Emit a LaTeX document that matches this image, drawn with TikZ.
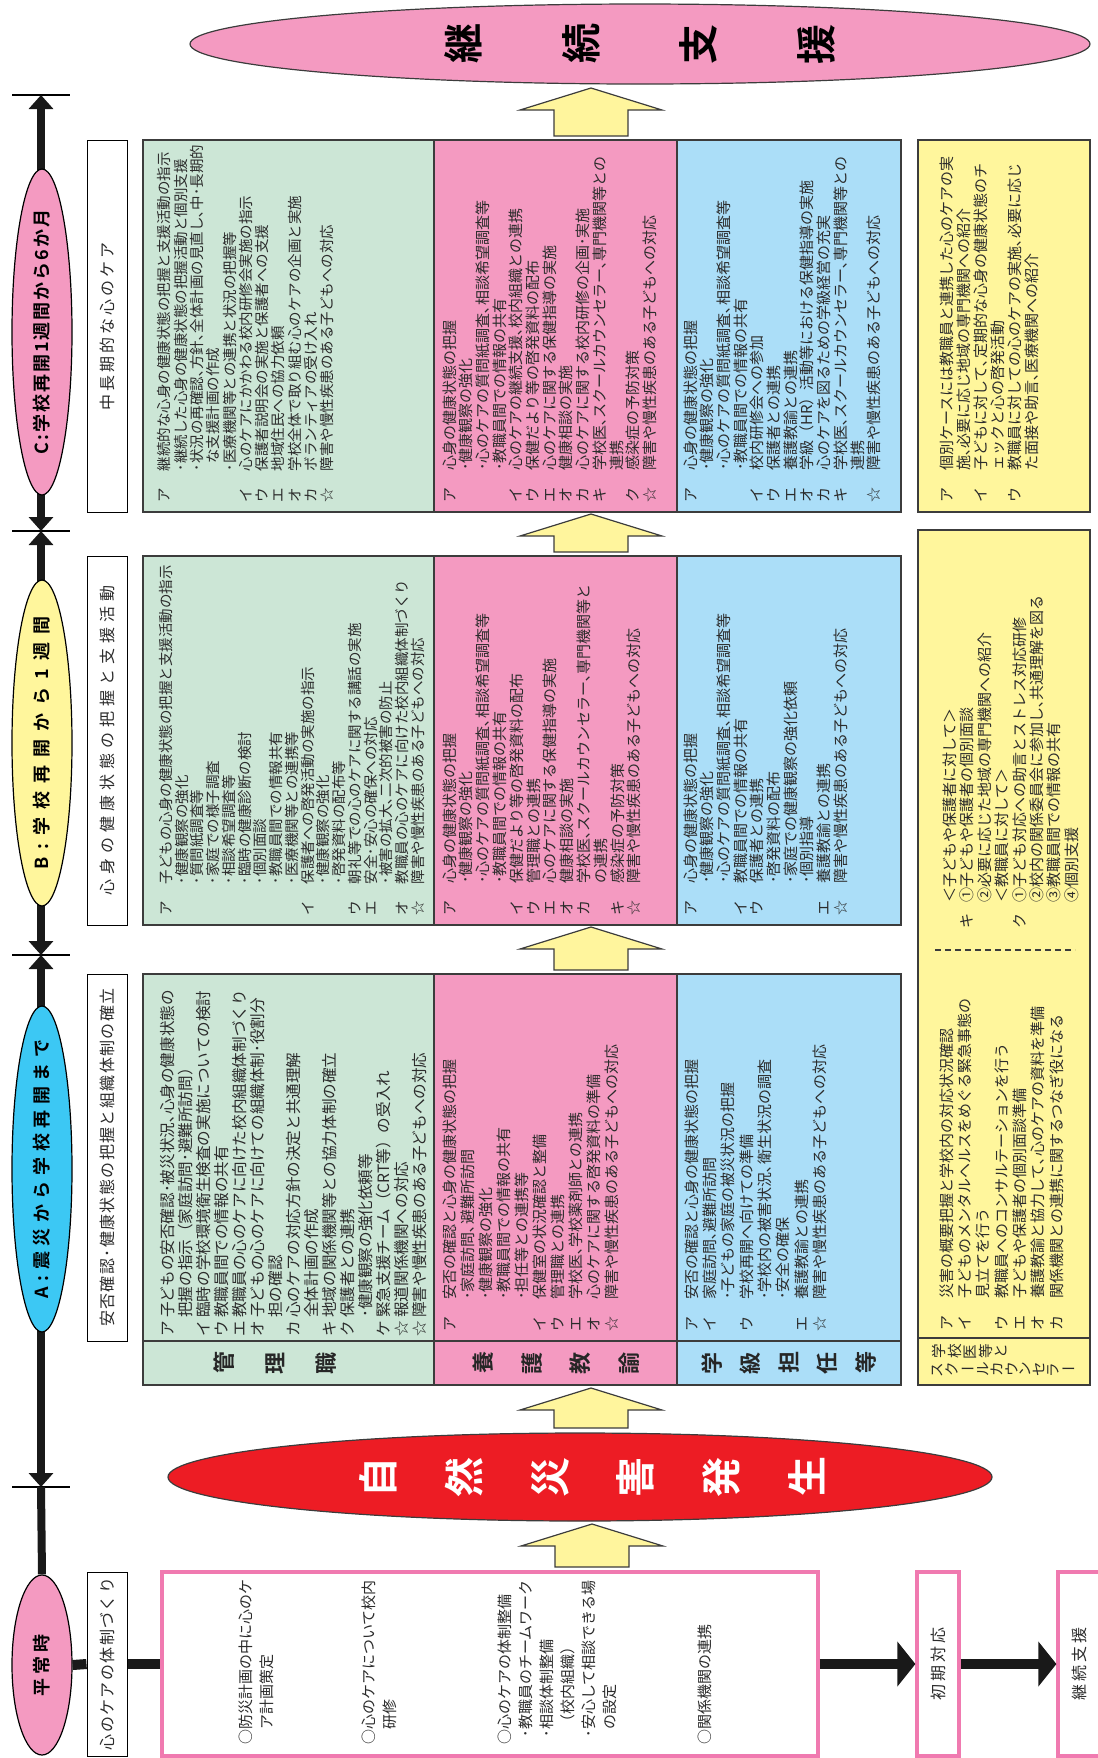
\documentclass[tikz,border=0pt]{standalone}
\usepackage{fontspec}
\setmainfont{Noto Sans CJK JP}[BoldFont={Noto Sans CJK JP Bold}]
\usepackage{graphicx}
\usepackage{array}
\usetikzlibrary{positioning,arrows.meta,shapes.geometric}
\definecolor{kgreen}{HTML}{CCE6D6}
\definecolor{kpink}{HTML}{F49AC1}
\definecolor{kblue}{HTML}{ABDEF8}
\definecolor{kyellow}{HTML}{FFF69C}
\definecolor{kred}{HTML}{ED1C24}
\definecolor{kcyan}{HTML}{3CC8F4}
\definecolor{arrowyel}{HTML}{FFF59D}
\definecolor{boxpink}{HTML}{F07AB0}
\definecolor{linegrey}{HTML}{3C3C3C}
\definecolor{txtgrey}{HTML}{2B2B2B}
% one rotated character per glyph, spread by #1
\makeatletter
\newcommand\rotline[2]{\def\rl@sep{}\@tfor\rl@c:=#2\do{\rl@sep\rotatebox[origin=c]{90}{\rl@c}\def\rl@sep{\hspace{#1}}}}
\newcommand\sprd[2]{\def\sp@sep{}\@tfor\sp@c:=#2\do{\sp@sep\sp@c\def\sp@sep{\hspace{#1}}}}
\makeatother
\newcommand\rotch[1]{\rotatebox[origin=c]{90}{#1}}
% smashed cells so that the line pitch is exact
\newsavebox\kbox
\newcolumntype{K}{>{\begin{lrbox}{\kbox}}l<{\end{lrbox}\smash{\usebox{\kbox}}}}
% list of items: font size, line pitch, label gap, rows
\newcommand\kcell[4]{{\fontsize{#1}{#2}\selectfont\renewcommand\arraystretch{1}%
  \begin{tabular}{@{}K@{\hspace{#3}}K@{}}#4\end{tabular}}}
\newcommand\blockup[3]{\draw[uparr] (#1-37,#3) -- (#1-37,#2+22) -- (#1-71,#2+22)
  -- (#1,#2) -- (#1+71,#2+22) -- (#1+37,#2+22) -- (#1+37,#3) -- cycle;}
\tikzset{
  cellline/.style={draw=linegrey, line width=0.7pt},
  celltext/.style={rotate=90, inner sep=0pt, text=txtgrey, anchor=north west},
  hdrbox/.style={draw=black, line width=0.5pt, fill=white, rotate=90,
                 minimum height=20pt, inner sep=0pt, font=\fontsize{8}{9}\selectfont, text=txtgrey},
  phase/.style={ellipse, draw=black, line width=0.6pt, rotate=90, minimum height=30pt, inner sep=0pt},
  phasetxt/.style={rotate=90, inner sep=0pt, font=\fontsize{9}{10}\selectfont\bfseries, text=black},
  tline/.style={line width=4pt, draw=black!90},
  tickline/.style={line width=0.8pt, draw=black},
  uparr/.style={draw=linegrey, line width=0.6pt, fill=arrowyel, line join=miter},
  fatline/.style={line width=5pt, draw=black!90},
  pinkbox/.style={draw=boxpink, line width=1.6pt, fill=white, inner sep=0pt},
  smallbox/.style={pinkbox, rotate=90, minimum width=92pt, minimum height=21pt,
                   font=\fontsize{8}{9}\selectfont, text=txtgrey},
  lblchar/.style={inner sep=0pt, font=\fontsize{11}{11}\selectfont\bfseries, text=black!85},
  tarr/.tip={Triangle[width=12pt,length=7pt]},
  fattip/.tip={Triangle[width=22pt,length=9pt]}
}
\begin{document}
\begin{tikzpicture}[x=0.5pt, y=-0.5pt]
  \useasboundingbox (0,0) rectangle (1098,1758);
  % table cells
  \foreach \ya/\yb in {140/512,556/925,974/1341,1341/1385}{
    \draw[cellline, fill=kgreen] (143,\ya) rectangle (434,\yb);
    \draw[cellline, fill=kpink] (434,\ya) rectangle (677,\yb);
    \draw[cellline, fill=kblue] (677,\ya) rectangle (901,\yb);
  }
  \draw[cellline, fill=kyellow] (918,140) rectangle (1090,512);
  \draw[cellline, fill=kyellow] (918,530) rectangle (1090,1338);
  \draw[cellline, fill=kyellow] (918,1338) rectangle (1090,1385);
  \draw[linegrey, line width=0.6pt, dash pattern=on 3pt off 2pt] (935,950) -- (1075,950);

  % block arrows
  \blockup{591}{88}{136}
  \blockup{591}{514}{552}
  \blockup{591}{927}{970}
  \blockup{591}{1388}{1428}
  \blockup{592}{1524}{1567}

  % time line
  \coordinate (t0) at (41,95);
  \coordinate (t1) at (41,531);
  \coordinate (t2) at (41,955);
  \coordinate (t3) at (41,1487);
  \foreach \yy in {95,531,955,1487} \draw[tickline] (12,\yy) -- (70,\yy);
  \draw[tline, tarr-tarr] (t0) -- (t1);
  \draw[tline, tarr-tarr] (t1) -- (t2);
  \draw[tline, tarr-tarr] (t2) -- (t3);
  \node[phase, fill=kpink, minimum width=90pt] (heijo) at (42,1665) {};
  \draw[tline] (t3) -- (heijo.east);
  \node[phase, fill=kpink, minimum width=163pt] (phC) at (42,332) {};
  \node[phase, fill=kyellow, minimum width=163pt] (phB) at (42,743) {};
  \node[phase, fill=kcyan, minimum width=163pt] (phA) at (42,1169) {};
  \node[phasetxt] (phCt) at (phC) {\sprd{1pt}{C:学校再開1週間から6か月}};
  \node[phasetxt] (phBt) at (phB) {\sprd{4pt}{B:学校再開から1週間}};
  \node[phasetxt] (phAt) at (phA) {\sprd{2.8pt}{A:震災から学校再開まで}};
  \node[phasetxt] (heijot) at (heijo) {\sprd{2pt}{平常時}};

  % headers
  \node[hdrbox, minimum width=186pt] (hC) at (107,326) {\sprd{1.5pt}{中長期的な心のケア}};
  \node[hdrbox, minimum width=184.5pt] (hB) at (107,740.5) {\sprd{2.5pt}{心身の健康状態の把握と支援活動}};
  \node[hdrbox, minimum width=183.5pt] (hA) at (107,1157.5) {\sprd{0.7pt}{安否確認･健康状態の把握と組織体制の確立}};
  \node[hdrbox, minimum width=92pt] (h0) at (107,1664) {\sprd{0.7pt}{心のケアの体制づくり}};

  % big ellipses
  \node[ellipse, draw=linegrey, line width=0.6pt, fill=kpink, minimum width=450pt,
        minimum height=40pt, inner sep=0pt] (keizoku) at (640,44) {};
  \node[lblchar, font=\fontsize{20}{20}\selectfont\bfseries, text=black] (keizokut) at (keizoku)
        {\rotline{40pt}{継続支援}};
  \node[ellipse, draw=linegrey, line width=0.6pt, fill=kred, minimum width=412pt,
        minimum height=44pt, inner sep=0pt] (quake) at (580,1477) {};
  \node[lblchar, font=\fontsize{20}{20}\selectfont\bfseries, text=white] (quaket) at (592,1477)
        {\rotline{24pt}{自然災害発生}};

  % row labels
  \node[lblchar] (lkan) at (275,1363) {\rotline{15.5pt}{管理職}};
  \node[lblchar] (lyogo) at (556,1363) {\rotline{14pt}{養護教諭}};
  \node[lblchar] (ltan) at (789,1363) {\rotline{9pt}{学級担任等}};
  \node[inner sep=0pt, anchor=west, text=txtgrey, font=\fontsize{7.3}{8.5}\selectfont] (lsc) at (932,1362)
        {\begin{tabular}{@{}l@{}}\rotline{1.2pt}{学校医等と}\\
         \rotch{ス}\hspace{1.2pt}\rotch{ク}\hspace{1.2pt}ー\hspace{1.2pt}\rotch{ル}\hspace{1.2pt}%
         \rotch{カ}\hspace{1.2pt}\rotch{ウ}\hspace{1.2pt}\rotch{ン}\hspace{1.2pt}\rotch{セ}\hspace{1.2pt}%
         \rotch{ラ}\hspace{1.2pt}ー\end{tabular}};

  % A row
  \node[celltext] (gA) at (160,1337) {\kcell{7.8}{9}{1.7pt}{%
    ア & 子どもの安否確認･被災状況､心身の健康状態の\\
       & 把握の指示（家庭訪問･避難所訪問）\\
    イ & 臨時の学校環境衛生検査の実施についての検討\\
    ウ & 教職員間での情報の共有\\
    エ & 教職員の心のケアに向けた校内組織体制づくり\\
    オ & 子どもの心のケアに向けての組織体制･役割分\\
       & 担の確認\\
    カ & 心のケアの対応方針の決定と共通理解\\
       & 全体計画の作成\\
    キ & 地域の関係機関等との協力体制の確立\\
    ク & 保護者との連携\\
       & ･健康観察の強化依頼等\\
    ケ & 緊急支援チーム（CRT等）の受入れ\\
    ☆ & 報道関係機関への対応\\
    ☆ & 障害や慢性疾患のある子どもへの対応}};
  \node[celltext] (pA) at (442,1332) {\kcell{7.5}{9}{8.5pt}{%
    ア & 安否の確認と心身の健康状態の把握\\
       & ･家庭訪問､避難所訪問\\
       & ･健康観察の強化\\
       & ･教職員間での情報の共有\\
       & ･担任等との連携等\\
    イ & 保健室の状況確認と整備\\
    ウ & 管理職との連携\\
    エ & 学校医､学校薬剤師との連携\\
    オ & 心のケアに関する啓発資料の準備\\
    ☆ & 障害や慢性疾患のある子どもへの対応}};
  \node[celltext] (bA) at (684,1332) {\kcell{7.5}{9.15}{8.5pt}{%
    ア & 安否の確認と心身の健康状態の把握\\
    イ & 家庭訪問､避難所訪問\\
       & ･子どもの家庭の被災状況の把握\\
    ウ & 学校再開へ向けての準備\\
       & ･学校内の被害状況､衛生状況の調査\\
       & ･安全の確保\\
    エ & 養護教諭との連携\\
    ☆ & 障害や慢性疾患のある子どもへの対応}};
  \node[celltext] (yA) at (939,1331) {\kcell{7.5}{9.15}{8.5pt}{%
    ア & 災害の概要把握と学校内の対応状況確認\\
    イ & 子どものメンタルヘルスをめぐる緊急事態の\\
       & 見立てを行う\\
    ウ & 教職員へのコンサルテーションを行う\\
    エ & 子どもや保護者の個別面談準備\\
    オ & 養護教諭と協力して､心のケアの資料を準備\\
    カ & 関係機関との連携に関するつなぎ役になる}};

  % B row
  \node[celltext] (gB) at (160,916) {\kcell{7.25}{7.875}{8.5pt}{%
    ア & 子どもの心身の健康状態の把握と支援活動の指示\\
       & ･健康観察の強化\\
       & ･質問紙調査等\\
       & ･家庭での様子調査\\
       & ･相談希望調査等\\
       & ･臨時の健康診断の検討\\
       & ･個別面談\\
       & ･教職員間での情報共有\\
       & ･医療機関等との連携等\\
    イ & 保護者への啓発活動の実施の指示\\
       & ･健康観察の強化\\
       & ･啓発資料の配布等\\
    ウ & 朝礼等での心のケアに関する講話の実施\\
    エ & 安全･安心の確保への対応\\
       & ･被害の拡大､二次的被害の防止\\
    オ & 教職員の心のケアに向けた校内組織体制づくり\\
    ☆ & 障害や慢性疾患のある子どもへの対応}};
  \node[celltext] (pB) at (443,916) {\kcell{7.5}{8.4}{8.5pt}{%
    ア & 心身の健康状態の把握\\
       & ･健康観察の強化\\
       & ･心のケアの質問紙調査､相談希望調査等\\
       & ･教職員間での情報の共有\\
    イ & 保健だより等の啓発資料の配布\\
    ウ & 管理職との連携\\
    エ & 心のケアに関する保健指導の実施\\
    オ & 健康相談の実施\\
    カ & 学校医､スクールカウンセラー､専門機関等と\\
       & の連携\\
    キ & 感染症の予防対策\\
    ☆ & 障害や慢性疾患のある子どもへの対応}};
  \node[celltext] (bB) at (684,916) {\kcell{7.5}{8.35}{8.5pt}{%
    ア & 心身の健康状態の把握\\
       & ･健康観察の強化\\
       & ･心のケアの質問紙調査､相談希望調査等\\
    イ & 教職員間での情報の共有\\
    ウ & 保護者との連携\\
       & ･啓発資料の配布\\
       & ･家庭での健康観察の強化依頼\\
       & ･個別指導\\
    エ & 養護教諭との連携\\
    ☆ & 障害や慢性疾患のある子どもへの対応}};
  \node[celltext] (yB) at (943,929) {\kcell{7.5}{8.7}{5.5pt}{%
       & ＜子どもや保護者に対して＞\\
    キ & ①子どもや保護者の個別面談\\
       & ②必要に応じた地域の専門機関への紹介\\
       & ＜教職員に対して＞\\
    ク & ①子ども対応への助言とストレス対応研修\\
       & ②校内の関係委員会に参加し､共通理解を図る\\
       & ③教職員間での情報の共有\\
       & ④個別支援}};

  % C row
  \node[celltext] (gC) at (158,503) {\kcell{7.25}{8.15}{8.5pt}{%
    ア & 継続的な心身の健康状態の把握と支援活動の指示\\
       & ･継続した心身の健康状態の把握活動と個別支援\\
       & ･状況の再確認､方針､全体計画の見直し､中･長期的\\
       & \hspace{0.5em}な支援計画の作成\\
       & ･医療機関等との連携と状況の把握等\\
    イ & 心のケアにかかわる校内研修会実施の指示\\
    ウ & 保護者説明会の実施と保護者への支援\\
    エ & 地域住民への協力依頼\\
    オ & 学校全体で取り組む心のケアの企画と実施\\
    カ & ボランティアの受け入れ\\
    ☆ & 障害や慢性疾患のある子どもへの対応}};
  \node[celltext] (pC) at (443,503) {\kcell{7.5}{8.35}{8.5pt}{%
    ア & 心身の健康状態の把握\\
       & ･健康観察の強化\\
       & ･心のケアの質問紙調査､相談希望調査等\\
       & ･教職員間での情報の共有\\
    イ & 心のケアの継続支援､校内組織との連携\\
    ウ & 保健だより等の啓発資料の配布\\
    エ & 心のケアに関する保健指導の実施\\
    オ & 健康相談の実施\\
    カ & 心のケアに関する校内研修の企画･実施\\
    キ & 学校医､スクールカウンセラー､専門機関等との\\
       & 連携\\
    ク & 感染症の予防対策\\
    ☆ & 障害や慢性疾患のある子どもへの対応}};
  \node[celltext] (bC) at (684,503) {\kcell{7.5}{8.35}{8.5pt}{%
    ア & 心身の健康状態の把握\\
       & ･健康観察の強化\\
       & ･心のケアの質問紙調査､相談希望調査等\\
       & ･教職員間での情報の共有\\
    イ & 校内研修会への参加\\
    ウ & 保護者との連携\\
    エ & 養護教諭との連携\\
    オ & 学級（HR）活動等における保健指導の実施\\
    カ & 心のケアを図るための学級経営の充実\\
    キ & 学校医､スクールカウンセラー､専門機関等との\\
       & 連携\\
    ☆ & 障害や慢性疾患のある子どもへの対応}};
  \node[celltext] (yC) at (940,503) {\kcell{7.5}{8.5}{8.5pt}{%
    ア & 個別ケースには教職員と連携した心のケアの実\\
       & 施､必要に応じ地域の専門機関への紹介\\
    イ & 子どもに対して､定期的な心身の健康状態のチ\\
       & ェックと心の啓発活動\\
    ウ & 教職員に対しての心のケアの実施､必要に応じ\\
       & た面接や助言､医療機関への紹介}};

  % peacetime preparation and flow
  \node[pinkbox, minimum width=328pt, minimum height=92pt] (prep) at (490,1664) {};
  \node[smallbox] (init) at (938,1664) {\sprd{1.5pt}{初期対応}};
  \node[smallbox] (cont) at (1079,1664) {\sprd{1.5pt}{継続支援}};
  \draw[fatline] (heijo.south) -- (h0.north);
  \draw[fatline] (h0.south) -- (prep.west);
  \draw[fatline, -fattip] (prep.east) -- (init.north);
  \draw[fatline, -fattip] (init.south) -- (cont.north);
  \node[celltext] (pr1) at (236,1745) {\kcell{7.5}{10.5}{0pt}{%
    ○ & 防災計画の中に心のケ\\ & ア計画策定}};
  \node[celltext] (pr2) at (359,1745) {\kcell{7.5}{10.5}{0pt}{%
    ○ & 心のケアについて校内\\ & 研修}};
  \node[celltext] (pr3) at (495,1745) {\kcell{7.5}{10.5}{0pt}{%
    ○ & 心のケアの体制整備\\
      & \llap{･}教職員のチームワーク\\
      & \llap{･}相談体制整備\\
      & （校内組織）\\
      & \llap{･}安心して相談できる場\\
      & の設定}};
  \node[celltext] (pr4) at (695,1745) {\kcell{7.5}{10.5}{0pt}{%
    ○ & 関係機関の連携}};
\end{tikzpicture}
\end{document}
